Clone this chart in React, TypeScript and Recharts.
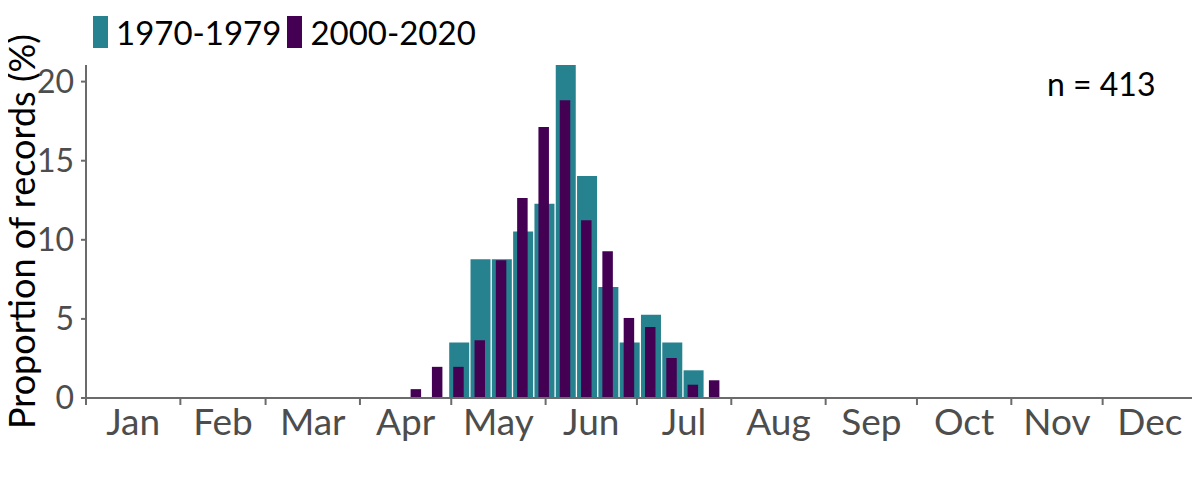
import { ComposedChart, Bar, XAxis, YAxis, Legend } from 'recharts';

const FONT = 'Lato, "Open Sans", sans-serif';

// week of year (1-based), 7-day bins
const weeks = [16, 17, 18, 19, 20, 21, 22, 23, 24, 25, 26, 27, 28, 29, 30];
const records1970s = [0, 0, 3.51, 8.77, 8.77, 10.53, 12.28, 21.05, 14.04, 7.02, 3.51, 5.26, 3.51, 1.75, 0];
const records2000s = [0.56, 1.97, 1.97, 3.65, 8.71, 12.64, 17.13, 18.82, 11.24, 9.27, 5.06, 4.49, 2.53, 0.84, 1.12];

const seriesNames = ['1970-1979', '2000-2020'];
const seriesColors = ['#26828E', '#440154'];
const monthNames = ['Jan', 'Feb', 'Mar', 'Apr', 'May', 'Jun', 'Jul', 'Aug', 'Sep', 'Oct', 'Nov', 'Dec'];
const monthStarts = [0, 31, 59, 90, 120, 151, 181, 212, 243, 273, 304, 334, 365];
const yTicks = [0, 5, 10, 15, 20];
const sampleSize = 413;
const yTitle = 'Proportion of records (%)';

const data = weeks.map((w, i) => ({
  day: (w - 1) * 7 + 3.5,
  early: records1970s[i],
  recent: records2000s[i],
}));
const monthMids = monthNames.map((_, i) => (monthStarts[i] + monthStarts[i + 1]) / 2);

const AXIS = '#6b6b6b';
const TICK_TEXT = '#4d4d4d';

function renderLegend(props: any) {
  const payload = props.payload || [];
  return (
    <div style={{ display: 'flex', height: 51, fontFamily: FONT, fontSize: 33, color: '#000' }}>
      {payload.map((p: any) => (
        <div key={p.value} style={{ display: 'flex', alignItems: 'flex-start', marginRight: 6 }}>
          <span style={{ display: 'inline-block', width: 15, height: 32, background: p.color, marginTop: 2, marginRight: 8 }} />
          <span style={{ lineHeight: '36px' }}>{p.value}</span>
        </div>
      ))}
    </div>
  );
}

function YTitle(props: any) {
  const vb = props.viewBox || {};
  const cx = (vb.x || 0) + 21;
  const cy = (vb.y || 0) + (vb.height || 0) / 2;
  return (
    <text
      x={cx}
      y={cy}
      transform={`rotate(-90, ${cx}, ${cy})`}
      textAnchor="middle"
      dominantBaseline="central"
      fontSize={36}
      fontFamily={FONT}
      fill="#000"
    >
      {yTitle}
    </text>
  );
}

export default function App() {
  return (
    <div style={{ position: 'relative', width: 1200, height: 480, margin: -8, fontFamily: FONT }}>
      <ComposedChart width={1200} height={480} data={data} margin={{ top: 14, right: 3, bottom: 0, left: 0 }}>
        <Legend verticalAlign="top" align="left" content={renderLegend} wrapperStyle={{ top: 14, left: 93 }} />
        <XAxis
          xAxisId="edges"
          dataKey="day"
          type="number"
          domain={[0, 365]}
          ticks={monthStarts}
          interval={0}
          tickFormatter={() => ''}
          tickSize={7}
          height={8}
          axisLine={{ stroke: AXIS, strokeWidth: 2 }}
          tickLine={{ stroke: AXIS, strokeWidth: 2 }}
        />
        <XAxis
          xAxisId="months"
          dataKey="day"
          type="number"
          domain={[0, 365]}
          ticks={monthMids}
          interval={0}
          tickFormatter={(v: number) => monthNames[monthMids.indexOf(v)]}
          axisLine={false}
          tickLine={false}
          tickSize={0}
          tickMargin={3}
          height={74}
          tick={{ fill: TICK_TEXT, fontSize: 37, fontFamily: FONT }}
        />
        <YAxis
          domain={[0, 'dataMax']}
          ticks={yTicks}
          width={86}
          tickSize={5}
          tickMargin={7}
          axisLine={{ stroke: AXIS, strokeWidth: 2 }}
          tickLine={{ stroke: AXIS, strokeWidth: 2 }}
          tick={{ fill: TICK_TEXT, fontSize: 32, fontFamily: FONT }}
          label={{ content: YTitle }}
        />
        <Bar xAxisId="edges" dataKey="early" name={seriesNames[0]} fill={seriesColors[0]} barSize={20} isAnimationActive={false} />
        <Bar xAxisId="months" dataKey="recent" name={seriesNames[1]} fill={seriesColors[1]} barSize={10.5} isAnimationActive={false} />
      </ComposedChart>
      <div style={{ position: 'absolute', left: 1047, top: 64, fontSize: 32, color: '#000', fontFamily: FONT }}>
        n = {sampleSize}
      </div>
    </div>
  );
}
